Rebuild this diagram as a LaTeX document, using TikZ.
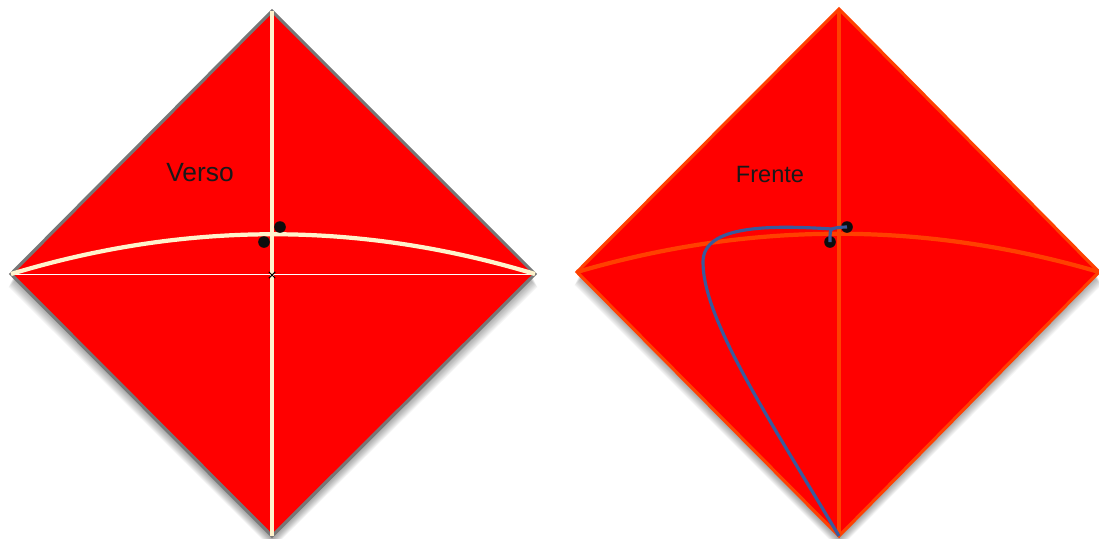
\documentclass[tikz,border=0pt]{standalone}
\usepackage{fontspec}
\setmainfont{Liberation Sans}
\usetikzlibrary{shapes.misc}
\definecolor{foldcream}{HTML}{FFF3CC}
\definecolor{foldorange}{HTML}{FF4000}
\definecolor{edgegray}{HTML}{777777}
\definecolor{curveblue}{HTML}{3A5A9C}
\tikzset{
	blackdot/.style={circle, fill=black!95, inner sep=0pt, minimum size=3.3pt},
	sheetlabel/.style={text=black!90, inner sep=0pt},
	creasemark/.style={cross out, draw=black, line width=0.3pt, inner sep=0pt, minimum size=1.5pt}
}
\begin{document}
\begin{tikzpicture}[x=0.01cm, y=-0.01cm]
	\useasboundingbox (0,0) rectangle (1099,539);
	
	% Verso
	\foreach \s in {1,...,13}{
		\fill[black, opacity=0.04] (272,{11+\s}) -- ({11-\s*0.5+4},{274+\s}) -- (272,{536+\s}) -- ({535+\s*0.5-4},{274+\s}) -- cycle;
	}
	\fill[red, draw=edgegray, line width=0.9pt] (272,11) -- (11,274) -- (272,536) -- (535,274) -- cycle;
	\coordinate (vtop) at (272,11);
	\coordinate (vleft) at (11,274);
	\coordinate (vright) at (535,274);
	\coordinate (vbottom) at (272,536);
	\draw[white, line width=0.25pt] (vleft) -- (vright);
	\draw[foldcream, line width=1.2pt] (vtop) -- (vbottom);
	\draw[foldcream, line width=1.2pt] (vleft) .. controls (186,221) and (360,221) .. (vright);
	\node[creasemark] (vcross) at (272,275) {};
	\node[blackdot] (vdotA) at (280,227) {};
	\node[blackdot] (vdotB) at (264,242) {};
	\node[sheetlabel, font=\fontsize{7.5pt}{9pt}\selectfont] (verso) at (200,173) {Verso};
	
	% Frente
	\foreach \s in {1,...,13}{
		\fill[black, opacity=0.04] (839,{9+\s}) -- ({577-\s*0.5+4},{272+\s}) -- (839,{536+\s}) -- ({1099+\s*0.5-4},{272+\s}) -- cycle;
	}
	\fill[red, draw=foldorange, line width=0.9pt] (839,9) -- (577,272) -- (839,536) -- (1099,272) -- cycle;
	\coordinate (ftop) at (839,9);
	\coordinate (fleft) at (577,272);
	\coordinate (fright) at (1099,272);
	\coordinate (fbottom) at (839,536);
	\coordinate (fjoin) at (832,229);
	\draw[foldorange, line width=1.2pt] (ftop) -- (fbottom);
	\draw[foldorange, line width=1.2pt] (fleft) .. controls (751,221) and (925,221) .. (fright);
	\node[blackdot] (fdotA) at (847,227) {};
	\node[blackdot] (fdotB) at (830,242) {};
	\draw[curveblue, line width=0.9pt] (fbottom) .. controls (770,420) and (703,320) .. (703,262)
		.. controls (703,225) and (770,225) .. (fjoin)
		.. controls (830,230) and (830,233) .. (fdotB.center);
	\draw[curveblue, line width=0.9pt] (fjoin) .. controls (834,228) and (840,227) .. (fdotA.center);
	\node[sheetlabel, font=\fontsize{6.7pt}{8pt}\selectfont] (frente) at (770,175) {Frente};
\end{tikzpicture}
\end{document}
